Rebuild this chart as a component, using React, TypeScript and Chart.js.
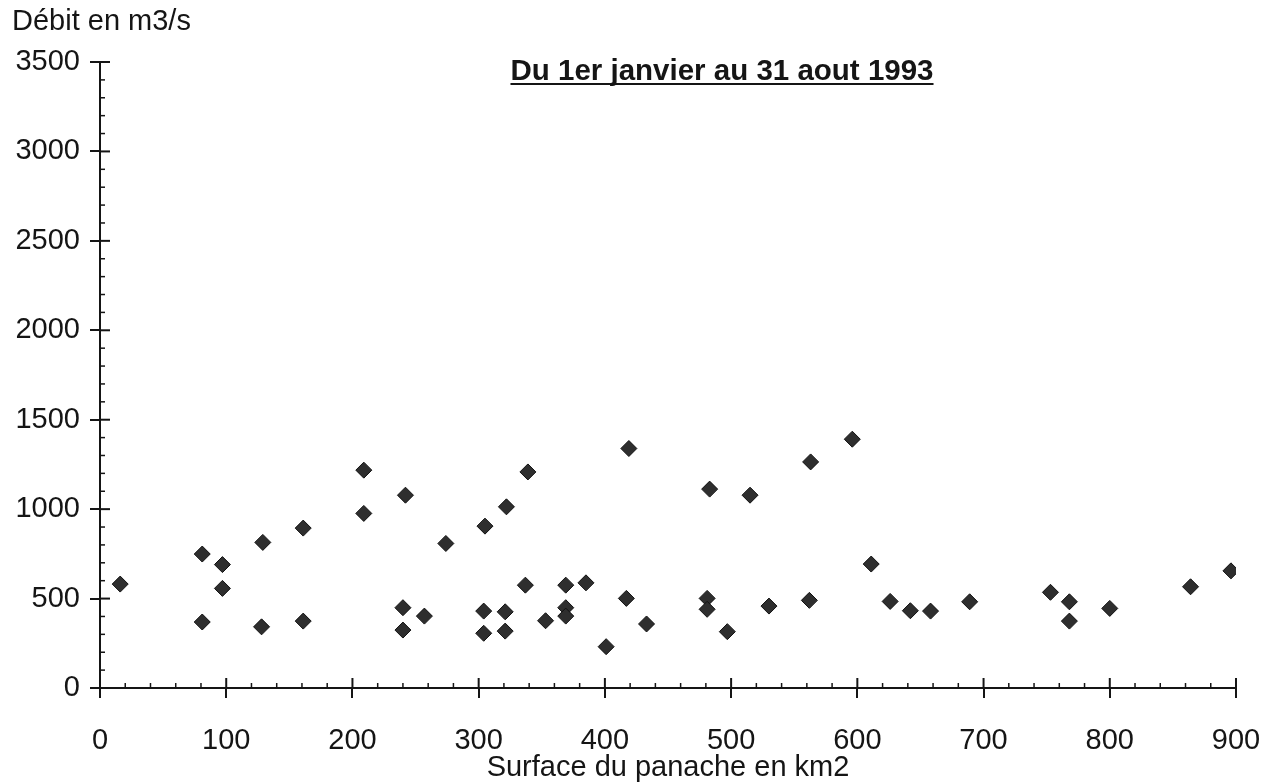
import React, { useEffect, useRef } from "react";
import { Chart, registerables } from "chart.js";
Chart.register(...registerables);

const surfaceKm2 = [16, 81, 81, 97, 97, 129, 128, 161, 161, 209, 209, 240, 240, 242, 257, 274, 304, 304, 305, 321, 321, 322, 337, 339, 353, 369, 369, 369, 385, 401, 417, 419, 433, 481, 481, 483, 497, 515, 530, 562, 563, 596, 611, 626, 642, 658, 689, 753, 768, 768, 800, 864, 896];
const debitM3s = [581, 749, 369, 690, 557, 814, 342, 894, 374, 1218, 976, 449, 324, 1078, 402, 808, 430, 306, 905, 426, 318, 1013, 575, 1208, 376, 575, 449, 402, 588, 231, 501, 1339, 358, 501, 440, 1112, 315, 1078, 458, 490, 1264, 1391, 693, 484, 432, 430, 482, 535, 482, 374, 445, 566, 655];

const xTicks = [0, 100, 200, 300, 400, 500, 600, 700, 800, 900];
const yTicks = [0, 500, 1000, 1500, 2000, 2500, 3000, 3500];

const yAxisLabel = "Débit en m3/s";
const xAxisLabel = "Surface du panache en km2";
const chartTitle = "Du 1er janvier au 31 aout 1993";

const FONT = "'Liberation Sans', Arial, sans-serif";
const INK = "#151515";

const decorPlugin = {
  id: "decor",
  afterDraw(chart: any) {
    const ctx = chart.ctx;
    const xs = chart.scales.x;
    const ys = chart.scales.y;
    const area = chart.chartArea;
    ctx.save();
    ctx.strokeStyle = INK;
    for (let v = 0; v <= 3500; v += 100) {
      const y = ys.getPixelForValue(v);
      const major = v % 500 === 0;
      ctx.lineWidth = major ? 2 : 1.5;
      ctx.beginPath();
      ctx.moveTo(area.left, y);
      ctx.lineTo(area.left + (major ? 10 : 5), y);
      ctx.stroke();
    }
    for (let v = 0; v <= 900; v += 20) {
      const x = xs.getPixelForValue(v);
      const major = v % 100 === 0;
      ctx.lineWidth = major ? 2 : 1.5;
      ctx.beginPath();
      ctx.moveTo(x, area.bottom);
      ctx.lineTo(x, area.bottom - (major ? 10 : 5));
      ctx.stroke();
    }
    ctx.fillStyle = INK;
    ctx.font = `29px ${FONT}`;
    ctx.textAlign = "left";
    ctx.textBaseline = "alphabetic";
    ctx.fillText(yAxisLabel, 12, 30);
    ctx.font = `bold 29.5px ${FONT}`;
    ctx.textAlign = "center";
    const tx = 722;
    const ty = 80;
    ctx.fillText(chartTitle, tx, ty);
    const w = ctx.measureText(chartTitle).width;
    ctx.lineWidth = 2;
    ctx.beginPath();
    ctx.moveTo(tx - w / 2, ty + 4);
    ctx.lineTo(tx + w / 2, ty + 4);
    ctx.stroke();
    ctx.restore();
  },
};

export default function App() {
  const ref = useRef<HTMLCanvasElement | null>(null);
  useEffect(() => {
    if (!ref.current) return;
    const chart = new Chart(ref.current, {
      type: "scatter",
      data: {
        datasets: [
          {
            data: surfaceKm2.map((x, i) => ({ x, y: debitM3s[i] })),
            pointStyle: "rectRot",
            pointRadius: 8,
            backgroundColor: "#2e2e2e",
            borderColor: "#111111",
            borderWidth: 1,
          },
        ],
      },
      options: {
        responsive: false,
        devicePixelRatio: 1,
        animation: false,
        layout: { padding: { top: 62, right: 36, left: 0, bottom: 0 } },
        plugins: { legend: { display: false }, tooltip: { enabled: false }, title: { display: false } },
        scales: {
          x: {
            type: "linear",
            min: 0,
            max: 900,
            afterFit: (s: any) => {
              s.height = 95;
              s.paddingLeft = 0;
              s.paddingRight = 0;
            },
            afterBuildTicks: (s: any) => {
              s.ticks = xTicks.map((v) => ({ value: v }));
            },
            border: { display: true, color: INK, width: 2 },
            grid: { display: true, drawOnChartArea: false, drawTicks: true, tickLength: 10, color: INK, lineWidth: 2 },
            ticks: { color: INK, font: { family: FONT, size: 29 }, padding: 26, maxRotation: 0, callback: (v: any) => String(v) },
            title: {
              display: true,
              text: xAxisLabel,
              color: INK,
              font: { family: FONT, size: 29, lineHeight: 1 },
              padding: { top: 0, bottom: 1 },
            },
          },
          y: {
            type: "linear",
            min: 0,
            max: 3500,
            afterFit: (s: any) => {
              s.width = 100;
              s.paddingTop = 0;
              s.paddingBottom = 0;
            },
            afterBuildTicks: (s: any) => {
              s.ticks = yTicks.map((v) => ({ value: v }));
            },
            border: { display: true, color: INK, width: 2 },
            grid: { display: true, drawOnChartArea: false, drawTicks: true, tickLength: 10, color: INK, lineWidth: 2 },
            ticks: { color: INK, font: { family: FONT, size: 29 }, padding: 10, callback: (v: any) => String(v) },
          },
        },
      },
      plugins: [decorPlugin],
    });
    return () => chart.destroy();
  }, []);
  return (
    <div style={{ position: "absolute", left: 0, top: 0, width: 1272, height: 783, background: "#fff" }}>
      <canvas ref={ref} width={1272} height={783} />
    </div>
  );
}
